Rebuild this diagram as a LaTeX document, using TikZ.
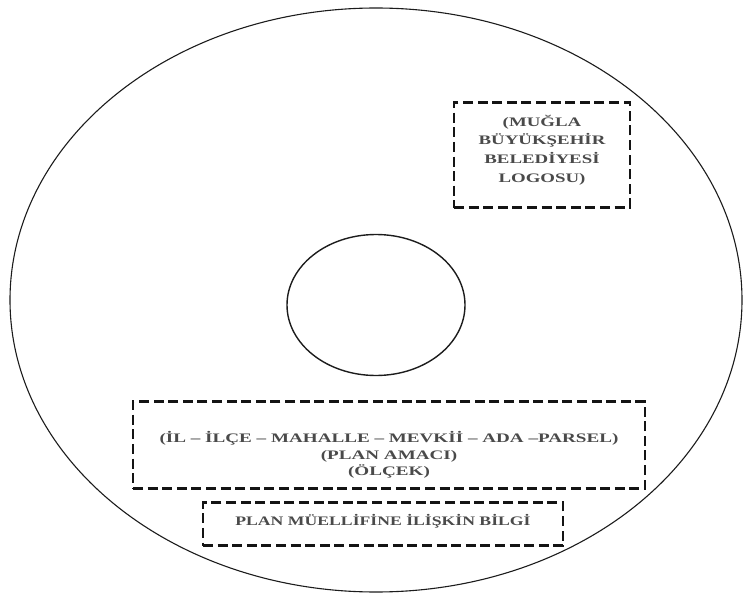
\documentclass[tikz,border=0pt]{standalone}
\usepackage{fontspec}
\setmainfont{Liberation Serif}
\usepackage{xcolor}
\usepackage{graphicx}
\usepackage{tikz}
\usetikzlibrary{shapes.geometric, positioning, calc}
\definecolor{discline}{HTML}{1C1C1C}
\definecolor{fieldline}{HTML}{141414}
\definecolor{fieldtext}{HTML}{4A4A4A}
\newcommand{\widelabel}[2]{\scalebox{#1}[1]{#2}}
\newcommand{\stackedlines}[2]{\vbox{\baselineskip=#1\lineskiplimit=-\maxdimen\halign{\hfil##\hfil\cr#2\crcr}}}
\tikzset{
    discedge/.style={ellipse, draw=discline, inner sep=0pt},
    fieldbox/.style={draw=fieldline, line width=2.6pt, dash pattern=on 10pt off 4.6pt, inner sep=0pt},
    fieldlabel/.style={text=fieldtext, font=\fontsize{13}{14.5}\selectfont\bfseries, inner sep=0pt}
}

\begin{document}
\begin{tikzpicture}[x=1pt, y=-1pt]
    \useasboundingbox (0,0) rectangle (745,602);
    % Disc outline and centre hole
    \node[discedge, line width=1.1pt, minimum width=732pt, minimum height=584pt] (disc) at (376,300) {};
    \node[discedge, line width=1.4pt, minimum width=178pt, minimum height=141pt] (hole) at (376,305) {};
    % Dashed fields
    \node[fieldbox, minimum width=176pt, minimum height=105pt] (logobox) at (542,155) {};
    \node[fieldbox, minimum width=512pt, minimum height=87pt] (placebox) at (389,445) {};
    \node[fieldbox, minimum width=360pt, minimum height=43pt] (authorbox) at (383,524) {};
    % Field texts
    \node[fieldlabel] (logotext) at ([yshift=5pt]logobox.center) {\widelabel{1.45}{\stackedlines{18.6pt}{(MUĞLA\cr BÜYÜKŞEHİR\cr BELEDİYESİ\cr LOGOSU)}}};
    \node[fieldlabel] (placetext) at ([yshift=-10pt]placebox.center) {\widelabel{1.47}{\stackedlines{16.5pt}{(İL – İLÇE – MAHALLE – MEVKİİ – ADA –PARSEL)\cr (PLAN AMACI)\cr (ÖLÇEK)}}};
    \node[fieldlabel] (authortext) at ([yshift=3pt]authorbox.center) {\widelabel{1.36}{PLAN MÜELLİFİNE İLİŞKİN BİLGİ}};
\end{tikzpicture}
\end{document}
